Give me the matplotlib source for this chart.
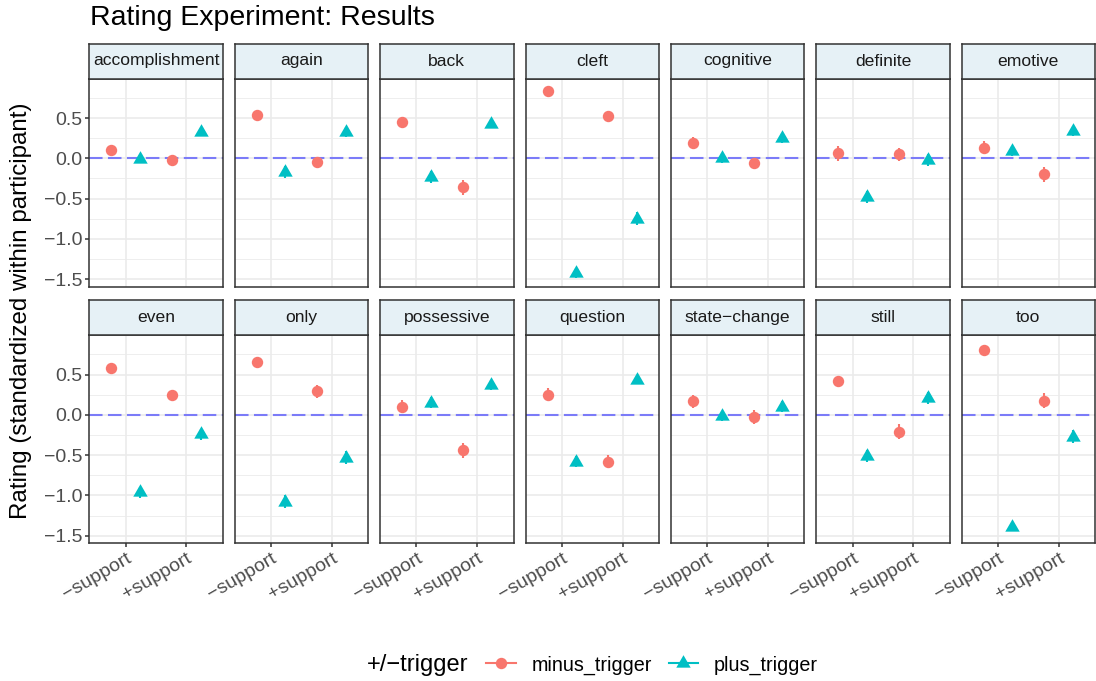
import matplotlib
matplotlib.use('Agg')
import matplotlib.pyplot as plt
from matplotlib.lines import Line2D
import numpy as np

plt.rcParams['font.family'] = ['Liberation Sans', 'DejaVu Sans']

# --- data ---
triggers = ["accomplishment", "again", "back", "cleft", "cognitive", "definite", "emotive",
            "even", "only", "possessive", "question", "state\u2212change", "still", "too"]
support_labels = ["\u2212support", "+support"]

# minus_trigger means, for -support / +support
minus_neg = [0.10, 0.54, 0.45, 0.83, 0.19, 0.06, 0.13, 0.58, 0.66, 0.10, 0.25, 0.17, 0.42, 0.81]
minus_pos = [-0.02, -0.05, -0.36, 0.525, -0.06, 0.05, -0.20, 0.24, 0.29, -0.44, -0.58, -0.03, -0.21, 0.175]
# plus_trigger means
plus_neg = [-0.01, -0.17, -0.23, -1.42, 0.00, -0.48, 0.09, -0.96, -1.08, 0.15, -0.58, -0.02, -0.51, -1.39]
plus_pos = [0.33, 0.33, 0.43, -0.75, 0.25, -0.02, 0.34, -0.24, -0.53, 0.37, 0.43, 0.10, 0.21, -0.27]

# half widths of the error bars
minus_neg_err = [0.04, 0.04, 0.06, 0.03, 0.07, 0.09, 0.08, 0.04, 0.04, 0.08, 0.08, 0.08, 0.05, 0.03]
minus_pos_err = [0.05, 0.07, 0.09, 0.05, 0.07, 0.08, 0.09, 0.05, 0.08, 0.09, 0.08, 0.09, 0.09, 0.09]
plus_neg_err = [0.05, 0.07, 0.07, 0.06, 0.06, 0.07, 0.06, 0.07, 0.08, 0.07, 0.07, 0.06, 0.07, 0.05]
plus_pos_err = [0.05, 0.06, 0.06, 0.08, 0.06, 0.07, 0.06, 0.07, 0.08, 0.06, 0.05, 0.07, 0.07, 0.08]

RED = '#F8766D'
TEAL = '#00BFC4'
# equilateral triangle centred on its centroid (like R's pch 17)
TRI = [(0, 1.555), (-1.347, -0.778), (1.347, -0.778), (0, 1.555)]

W, H = 1096, 681
fig = plt.figure(figsize=(W / 100, H / 100), dpi=100)
fig.patch.set_facecolor('white')


def box(x0, y0, x1, y1):
    # pixel box (top-left origin) -> figure fraction
    return [x0 / W, 1 - y1 / H, (x1 - x0) / W, (y1 - y0) / H]


dodge = 0.235
xs = np.array([1, 2])

for i, trig in enumerate(triggers):
    r, c = divmod(i, 7)
    x0 = 89.3 + c * 145.4
    x1 = x0 + 133.4
    top = [78.5, 335.0][r]
    bot = top + 208
    ax = fig.add_axes(box(x0, top, x1, bot))
    sax = fig.add_axes(box(x0, top - 35, x1, top))

    # strip
    sax.set_facecolor('#E6F1F6')
    sax.set_xticks([]); sax.set_yticks([])
    for s in sax.spines.values():
        s.set_color('#333333'); s.set_linewidth(1.1)
    sax.text(0.5, 0.5, trig, ha='center', va='center', fontsize=12.6, color='#1A1A1A',
             transform=sax.transAxes)

    ax.set_xlim(0.4, 2.6)
    ax.set_ylim(-1.59, 0.99)
    ax.set_xticks(xs)
    ax.set_yticks([-1.5, -1.0, -0.5, 0.0, 0.5])
    ax.set_yticks([-1.25, -0.75, -0.25, 0.25, 0.75], minor=True)
    ax.grid(which='major', color='#EBEBEB', lw=1.2)
    ax.grid(which='minor', axis='y', color='#EBEBEB', lw=0.6)
    ax.set_axisbelow(True)
    for s in ax.spines.values():
        s.set_color('#333333'); s.set_linewidth(1.1); s.set_zorder(5)

    ax.axhline(0, color='#7B7BF8', lw=1.5, dashes=(6.5, 2.6), zorder=2)

    m = [minus_neg[i], minus_pos[i]]
    me = [minus_neg_err[i], minus_pos_err[i]]
    p = [plus_neg[i], plus_pos[i]]
    pe = [plus_neg_err[i], plus_pos_err[i]]
    ax.vlines(xs - dodge, np.subtract(m, me), np.add(m, me), color=RED, lw=1.5, zorder=3)
    ax.vlines(xs + dodge, np.subtract(p, pe), np.add(p, pe), color=TEAL, lw=1.5, zorder=3)
    ax.plot(xs - dodge, m, 'o', color=RED, ms=8.2, mec='none', zorder=4)
    ax.plot(xs + dodge, p, marker=TRI, ls='none', color=TEAL, ms=12, mec='none', zorder=4)

    ax.tick_params(which='minor', length=0)
    ax.tick_params(which='major', length=3, width=1.1, color='#333333',
                   labelcolor='#4D4D4D', labelsize=14, pad=2)
    if c == 0:
        ax.set_yticklabels(['\u22121.5', '\u22121.0', '\u22120.5', '0.0', '0.5'])
    else:
        ax.tick_params(axis='y', length=0, labelleft=False)
    if r == 1:
        ax.set_xticklabels(support_labels, rotation=30, ha='right', va='top',
                           rotation_mode='anchor')
    else:
        ax.tick_params(axis='x', length=0, labelbottom=False)

fig.text(90 / W, 1 - 25 / H, "Rating Experiment: Results", fontsize=20.5, color='black',
         ha='left', va='baseline')
fig.text(21 / W, 1 - 310.5 / H, "Rating (standardized within participant)", fontsize=17.4,
         rotation=90, ha='center', va='center', color='black')

# legend
handles = [Line2D([0], [0], color=RED, lw=1.5, marker='o', ms=8.2, mec='none'),
           Line2D([0], [0], color=TEAL, lw=1.5, marker=TRI, ms=12, mec='none')]
fig.text(367 / W, 1 - 665 / H, "+/\u2212trigger", fontsize=17, ha='left', va='center')
fig.legend(handles, ["minus_trigger", "plus_trigger"], loc='center left',
           bbox_to_anchor=(486 / W, 1 - 665 / H), ncol=2, frameon=False, fontsize=14.2,
           handlelength=1.5, handletextpad=0.8, columnspacing=0.85,
           borderpad=0, borderaxespad=0)

fig.savefig('out.png', dpi=100)
